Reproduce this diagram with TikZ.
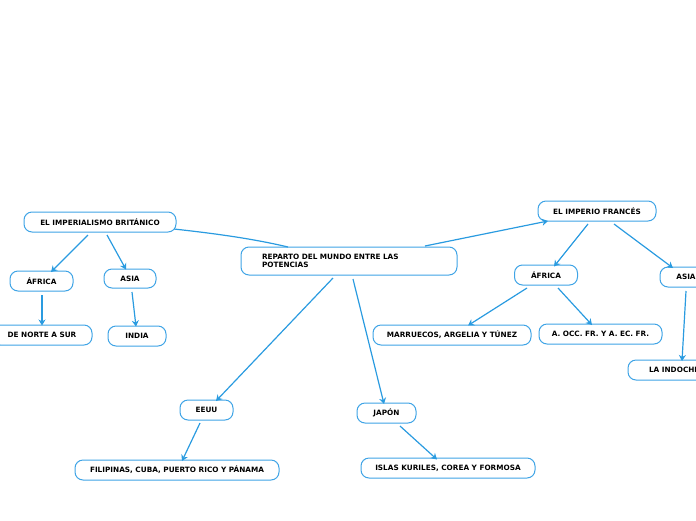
\documentclass[tikz,border=0pt]{standalone}
\usepackage{fontspec}
\setmainfont{DejaVu Sans}
\usetikzlibrary{arrows.meta}
\definecolor{edgeblue}{HTML}{2A9BE0}
\definecolor{boxblue}{HTML}{3FA4E6}
\begin{document}
\begin{tikzpicture}[x=1pt,y=-1pt,
  topic/.style={draw=boxblue, line width=1pt, rounded corners=8pt, fill=white,
    font=\fontsize{7.3}{8.4}\selectfont\bfseries, inner sep=0pt, minimum height=20pt},
  link/.style={draw=edgeblue, line width=1.2pt, -{Stealth[length=6pt,width=7pt]}},
  plain/.style={draw=edgeblue, line width=1.2pt}]
\useasboundingbox (0,0) rectangle (696,520);
% nodes
\node[topic, minimum width=152pt] (brit) at (100,222) {EL IMPERIALISMO BRITÁNICO};
\node[topic, minimum width=63pt] (afL) at (41.5,281) {ÁFRICA};
\node[topic, minimum width=52pt, minimum height=19pt] (asL) at (130,278.5) {ASIA};
\node[topic, minimum width=100pt] (norte) at (42,335) {DE NORTE A SUR};
\node[topic, minimum width=58pt] (india) at (137,336) {INDIA};
\node[topic, minimum width=216pt, minimum height=28pt, text width=174pt, align=left] (rep) at (349,261) {REPARTO DEL MUNDO ENTRE LAS\\POTENCIAS};
\node[topic, minimum width=118pt] (fr) at (597,211) {EL IMPERIO FRANCÉS};
\node[topic, minimum width=63pt] (afR) at (546,275) {ÁFRICA};
\node[topic, minimum width=52pt] (asR) at (686,277) {ASIA};
\node[topic, minimum width=158pt] (marr) at (452,335) {MARRUECOS, ARGELIA Y TÚNEZ};
\node[topic, minimum width=123pt] (aocc) at (600.5,334) {A. OCC. FR. Y A. EC. FR.};
\node[topic, minimum width=102pt] (indo) at (679,370) {LA INDOCHINA};
\node[topic, minimum width=53pt] (eeuu) at (206.5,410) {EEUU};
\node[topic, minimum width=59pt] (jap) at (386.5,413) {JAPÓN};
\node[topic, minimum width=204pt] (fil) at (177,470) {FILIPINAS, CUBA, PUERTO RICO Y PÁNAMA};
\node[topic, minimum width=174pt] (isl) at (448,468) {ISLAS KURILES, COREA Y FORMOSA};
% anchor coordinates
\coordinate (b1) at (88,235); \coordinate (b1e) at (51,272);
\coordinate (b2) at (107,235); \coordinate (b2e) at (126,269.5);
\coordinate (a1) at (42,295); \coordinate (a1e) at (42,325.5);
\coordinate (s1) at (132,292); \coordinate (s1e) at (136,326.5);
\coordinate (r0) at (288,247); \coordinate (r0e) at (174,229);
\coordinate (r1) at (425,246); \coordinate (r1e) at (548,221);
\coordinate (f1) at (588,224); \coordinate (f1e) at (554,266.5);
\coordinate (f2) at (614,224); \coordinate (f2e) at (673,268);
\coordinate (c1) at (527,288); \coordinate (c1e) at (468,325.5);
\coordinate (c2) at (558,288); \coordinate (c2e) at (592,325);
\coordinate (d1) at (686,291); \coordinate (d1e) at (682,361);
\coordinate (r2) at (333,278); \coordinate (r2e) at (216,401);
\coordinate (r3) at (353,279); \coordinate (r3e) at (384,404);
\coordinate (e1) at (200,423); \coordinate (e1e) at (182,461);
\coordinate (j1) at (400,426); \coordinate (j1e) at (437,459.5);
% edges
\draw[plain] (r0) .. controls (250,238) and (210,233) .. (r0e);
\draw[link] (b1) -- (b1e);
\draw[link] (b2) -- (b2e);
\draw[link] (a1) -- (a1e);
\draw[link] (s1) -- (s1e);
\draw[link] (r1) -- (r1e);
\draw[link] (f1) -- (f1e);
\draw[link] (f2) -- (f2e);
\draw[link] (c1) -- (c1e);
\draw[link] (c2) -- (c2e);
\draw[link] (d1) -- (d1e);
\draw[link] (r2) -- (r2e);
\draw[link] (r3) -- (r3e);
\draw[link] (e1) -- (e1e);
\draw[link] (j1) -- (j1e);
\end{tikzpicture}
\end{document}
